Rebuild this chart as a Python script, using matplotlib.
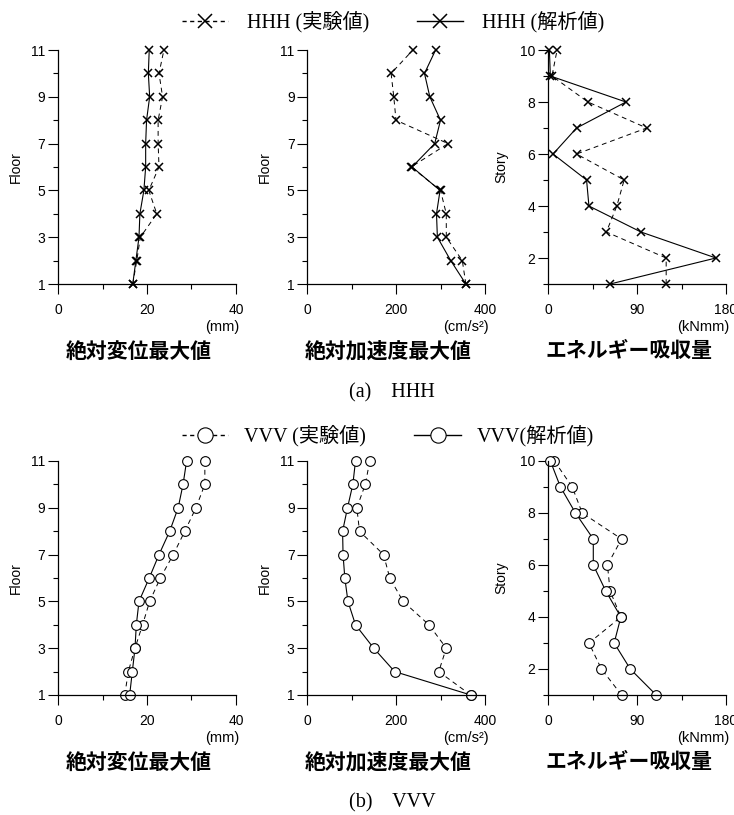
import matplotlib
matplotlib.use("Agg")
import matplotlib.pyplot as plt
from matplotlib.lines import Line2D
from matplotlib.ticker import MultipleLocator

plt.rcParams["font.family"] = ["Liberation Sans", "Noto Sans CJK JP"]

floors = [1, 2, 3, 4, 5, 6, 7, 8, 9, 10, 11]
stories = [1, 2, 3, 4, 5, 6, 7, 8, 9, 10]

# HHH
hhh_disp_exp = [16.8, 17.7, 18.5, 22.2, 20.4, 22.7, 22.5, 22.5, 23.5, 22.7, 23.8]
hhh_disp_ana = [16.8, 17.5, 18.2, 18.4, 19.3, 19.7, 19.7, 19.9, 20.6, 20.3, 20.5]
hhh_acc_exp = [357, 349, 313, 313, 300, 234, 317, 200, 195, 189, 238]
hhh_acc_ana = [357, 323, 293, 291, 299, 236, 287, 300, 276, 264, 289]
hhh_energy_exp = [119.5, 119.5, 59.0, 69.6, 77.0, 28.9, 99.8, 40.4, 4.0, 9.2]
hhh_energy_ana = [62.8, 169.8, 94.0, 41.4, 39.0, 5.1, 28.9, 78.8, 2.4, 1.4]

# VVV
vvv_disp_exp = [15.0, 15.8, 17.3, 19.0, 20.6, 23.0, 25.9, 28.5, 31.0, 33.0, 33.0]
vvv_disp_ana = [16.1, 16.7, 17.3, 17.6, 18.2, 20.5, 22.7, 25.1, 27.0, 28.1, 28.9]
vvv_acc_exp = [368, 296, 313, 274, 216, 186, 172, 118, 112, 131, 141]
vvv_acc_ana = [368, 197, 150, 109, 92, 85, 81, 80, 91, 103, 109]
vvv_energy_exp = [74.4, 54.0, 41.4, 73.7, 62.8, 60.1, 74.4, 34.6, 24.5, 6.5]
vvv_energy_ana = [109.4, 83.2, 66.9, 73.7, 58.4, 45.8, 45.8, 27.8, 12.6, 2.4]

titles = ["絶対変位最大値", "絶対加速度最大値", "エネルギー吸収量"]
units = ["(mm)", "(cm/s²)", "(kNmm)"]

W, H = 734, 815
fig = plt.figure(figsize=(W / 100, H / 100), dpi=100)


def px_axes(left, top, width, height):
    return fig.add_axes([left / W, 1 - (top + height) / H, width / W, height / H])


def style_axes(ax, kind):
    ax.spines["top"].set_visible(False)
    ax.spines["right"].set_visible(False)
    ax.tick_params(which="major", direction="out", length=7, width=0.8,
                   labelsize=10)
    ax.tick_params(which="minor", direction="out", length=3.6, width=0.8)
    ax.tick_params(axis="x", which="major", pad=6.5)
    ax.tick_params(axis="y", which="major", pad=2)
    if kind == "disp":
        ax.set_xlim(0, 40)
        ax.xaxis.set_major_locator(MultipleLocator(20))
        ax.xaxis.set_minor_locator(MultipleLocator(10))
    elif kind == "acc":
        ax.set_xlim(0, 400)
        ax.xaxis.set_major_locator(MultipleLocator(200))
        ax.xaxis.set_minor_locator(MultipleLocator(100))
    else:
        ax.set_xlim(0, 180)
        ax.xaxis.set_major_locator(MultipleLocator(90))
        ax.xaxis.set_minor_locator(MultipleLocator(45))
    if kind == "energy":
        ax.set_ylim(1, 10)
        ax.set_yticks([2, 4, 6, 8, 10])
        ax.yaxis.set_minor_locator(MultipleLocator(1))
        ax.set_ylabel("Story", fontsize=10)
        ax.yaxis.set_label_coords(-0.225, 0.5)
    else:
        ax.set_ylim(1, 11)
        ax.set_yticks([1, 3, 5, 7, 9, 11])
        ax.yaxis.set_minor_locator(MultipleLocator(1))
        ax.set_ylabel("Floor", fontsize=10)
        ax.yaxis.set_label_coords(-0.195, 0.5)
    for sp in ax.spines.values():
        sp.set_linewidth(0.9)


def draw_row(top, data, marker, mkw):
    lefts = [58, 307, 548]
    kinds = ["disp", "acc", "energy"]
    for i, (left, kind) in enumerate(zip(lefts, kinds)):
        ax = px_axes(left, top, 178, 234)
        exp_vals, ana_vals = data[i]
        ys = stories if kind == "energy" else floors
        ax.plot(exp_vals, ys, color="black", lw=0.7, ls=(0, (5, 4)),
                marker=marker, clip_on=False, **mkw)
        ax.plot(ana_vals, ys, color="black", lw=0.8, ls="-",
                marker=marker, clip_on=False, **mkw)
        style_axes(ax, kind)
        ax.text(1.02, -0.184, units[i], transform=ax.transAxes, ha="right",
                va="center", fontsize=10.5)
        ax.text(0.455, -0.286, titles[i], transform=ax.transAxes,
                ha="center", va="center", fontsize=15, fontweight="bold",
                family=["Noto Sans CJK JP"])


x_style = dict(markersize=6, mew=1.1, mec="black")
o_style = dict(markersize=7, mfc="white", mec="black", mew=0.8)

draw_row(50, [(hhh_disp_exp, hhh_disp_ana), (hhh_acc_exp, hhh_acc_ana),
              (hhh_energy_exp, hhh_energy_ana)], "x", x_style)
draw_row(461, [(vvv_disp_exp, vvv_disp_ana), (vvv_acc_exp, vvv_acc_ana),
               (vvv_energy_exp, vvv_energy_ana)], "o", o_style)

serif = ["Liberation Serif", "Noto Sans CJK JP"]


def add_legend(y_px, x_center, marker, mkw, names, msize, textpad):
    big = {**mkw, "markersize": msize}
    handles = [
        Line2D([], [], color="black", lw=1.0, ls=(0, (3, 2.5)), marker=marker,
               **big),
        Line2D([], [], color="black", lw=1.0, ls="-", marker=marker, **big),
    ]
    fig.legend(handles, names, loc="center", ncol=2, frameon=False,
               bbox_to_anchor=(x_center / W, 1 - y_px / H), handlelength=2.3,
               columnspacing=2.4, handletextpad=textpad, borderpad=0,
               prop={"family": serif, "size": 14.5})


add_legend(22, 393, "x", x_style, ["HHH (実験値)", "HHH (解析値)"], 10, 0.9)
add_legend(436, 388, "o", o_style, ["VVV (実験値)", "VVV(解析値)"], 11, 0.8)

fig.text(392 / W, 1 - 393 / H, "(a)    HHH", ha="center", va="center",
         fontsize=14.5, family=serif)
fig.text(392 / W, 1 - 803 / H, "(b)    VVV", ha="center", va="center",
         fontsize=14.5, family=serif)

fig.savefig("out.png", dpi=100)
